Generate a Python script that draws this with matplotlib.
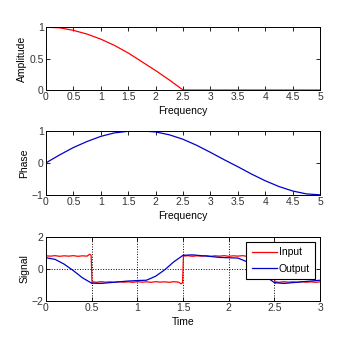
import matplotlib
matplotlib.use("Agg")
import matplotlib.pyplot as plt

plt.rcParams['font.family'] = ['Liberation Sans Narrow', 'Liberation Sans', 'DejaVu Sans']
plt.rcParams['font.size'] = 7.5

# amplitude response
freq = [0, 0.25, 0.5, 0.75, 1.0, 1.25, 1.5, 1.75, 2.0, 2.25, 2.5, 3.0, 3.5, 4.0, 4.5, 5.0]
amp = [1.0, 0.99, 0.95, 0.89, 0.81, 0.71, 0.59, 0.45, 0.31, 0.16, 0.0, 0.0, 0.0, 0.0, 0.0, 0.0]

# phase response
pfreq = [0, 0.25, 0.5, 0.75, 1.0, 1.25, 1.5, 1.75, 2.0, 2.25, 2.5, 2.75, 3.0, 3.25, 3.5,
         3.75, 4.0, 4.25, 4.5, 4.75, 5.0]
phase = [0.0, 0.25, 0.48, 0.67, 0.83, 0.94, 0.99, 1.0, 0.97, 0.88, 0.74, 0.55, 0.33, 0.1,
         -0.12, -0.35, -0.56, -0.74, -0.88, -0.97, -1.0]

# input signal (square wave with small ripple)
in_t = [0, 0.05, 0.1, 0.15, 0.2, 0.25, 0.3, 0.35, 0.4, 0.45, 0.48, 0.495, 0.505, 0.52,
        0.55, 0.6, 0.65, 0.7, 0.75, 0.8, 0.85, 0.9, 0.95, 1.0, 1.05, 1.1, 1.15, 1.2, 1.25,
        1.3, 1.35, 1.4, 1.45, 1.48, 1.495, 1.505, 1.52, 1.55, 1.6, 1.65, 1.7, 1.75, 1.8,
        1.85, 1.9, 1.95, 2.0, 2.05, 2.1, 2.15, 2.2, 2.25, 2.3, 2.35, 2.4, 2.45, 2.48, 2.495,
        2.505, 2.52, 2.55, 2.6, 2.65, 2.7, 2.75, 2.8, 2.85, 2.9, 2.95, 3.0]
in_v = [0.82, 0.8, 0.83, 0.79, 0.82, 0.8, 0.83, 0.79, 0.82, 0.8, 0.92, 0.85, -0.9, -0.8,
        -0.83, -0.79, -0.82, -0.8, -0.83, -0.79, -0.82, -0.8, -0.83, -0.79, -0.82, -0.8,
        -0.83, -0.79, -0.82, -0.8, -0.83, -0.79, -0.82, -0.92, -0.85, 0.9, 0.8, 0.83, 0.79,
        0.82, 0.8, 0.83, 0.79, 0.82, 0.8, 0.83, 0.79, 0.82, 0.8, 0.83, 0.79, 0.82, 0.8,
        0.83, 0.79, 0.82, 0.92, 0.85, -0.9, -0.8, -0.83, -0.79, -0.82, -0.8, -0.83, -0.79,
        -0.82, -0.8, -0.83, -0.8]

# output signal
out_t = [0, 0.1, 0.2, 0.3, 0.4, 0.5, 0.6, 0.7, 0.8, 0.9, 1.0, 1.1, 1.2, 1.3, 1.4, 1.5,
         1.6, 1.7, 1.8, 1.9, 2.0, 2.1, 2.2, 2.3, 2.4, 2.5, 2.6, 2.7, 2.8, 2.9, 3.0]
out_v = [0.7, 0.6, 0.3, -0.1, -0.55, -0.88, -0.9, -0.85, -0.8, -0.75, -0.72, -0.7, -0.45,
         -0.05, 0.45, 0.85, 0.88, 0.83, 0.78, 0.72, 0.7, 0.68, 0.45, 0.05, -0.45, -0.85,
         -0.9, -0.85, -0.8, -0.75, -0.7]

fig = plt.figure(figsize=(3.53, 3.53), dpi=100)
L, W = 0.130, 0.777
ax1 = fig.add_axes([L, 0.745, W, 0.178])
ax2 = fig.add_axes([L, 0.448, W, 0.181])
ax3 = fig.add_axes([L, 0.147, W, 0.182])

ax1.plot(freq, amp, color='red', lw=0.9)
ax1.set_xlim(0, 5)
ax1.set_ylim(0, 1)
ax1.set_xticks([0, 0.5, 1, 1.5, 2, 2.5, 3, 3.5, 4, 4.5, 5])
ax1.set_xticklabels(['0', '0.5', '1', '1.5', '2', '2.5', '3', '3.5', '4', '4.5', '5'])
ax1.set_yticks([0, 0.5, 1])
ax1.set_yticklabels(['0', '0.5', '1'])
ax1.set_xlabel('Frequency', labelpad=3)
ax1.set_ylabel('Amplitude', labelpad=2)

ax2.plot(pfreq, phase, color='#0000cc', lw=0.9)
ax2.set_xlim(0, 5)
ax2.set_ylim(-1, 1)
ax2.set_xticks([0, 0.5, 1, 1.5, 2, 2.5, 3, 3.5, 4, 4.5, 5])
ax2.set_xticklabels(['0', '0.5', '1', '1.5', '2', '2.5', '3', '3.5', '4', '4.5', '5'])
ax2.set_yticks([-1, 0, 1])
ax2.set_xlabel('Frequency', labelpad=3)
ax2.set_ylabel('Phase', labelpad=2)

ax3.plot(in_t, in_v, color='red', lw=0.9, label='Input')
ax3.plot(out_t, out_v, color='#0000cc', lw=0.9, label='Output')
ax3.set_xlim(0, 3)
ax3.set_ylim(-2, 2)
ax3.set_xticks([0, 0.5, 1, 1.5, 2, 2.5, 3])
ax3.set_xticklabels(['0', '0.5', '1', '1.5', '2', '2.5', '3'])
ax3.set_yticks([-2, 0, 2])
ax3.grid(True, color='black', linestyle=':', lw=0.7)
ax3.set_xlabel('Time', labelpad=3)
ax3.set_ylabel('Signal', labelpad=2)
leg = ax3.legend(loc='upper right', fancybox=False, framealpha=1, edgecolor='black',
                 borderaxespad=0.5, handlelength=2.4, labelspacing=0.6, fontsize=7.5,
                 handletextpad=0.2, borderpad=0.5)
leg.get_frame().set_linewidth(0.8)

for ax in (ax1, ax2, ax3):
    ax.tick_params(direction='in', top=True, right=True, length=3, width=0.6,
                   pad=1.5, labelcolor='#333333')
    for s in ax.spines.values():
        s.set_linewidth(0.7)

fig.savefig('out.png', dpi=100)
